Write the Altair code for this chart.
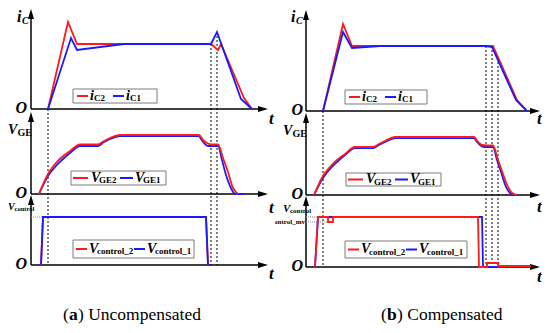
import altair as alt
import pandas as pd

# ---------------- data ----------------
# t : time measured from the origin of each column (arbitrary units)
# v : amplitude above the zero line of its panel (arbitrary units)

# (a) Uncompensated
A_IC2_T = [17, 37, 46, 180, 187, 190, 213, 221]
A_IC2_V = [0, 87, 65, 65, 59, 65, 11, 0]
A_IC1_T = [17, 40, 46, 93, 180, 186, 210, 221]
A_IC1_V = [0, 71, 59, 65, 65, 77, 10, 0]
A_VGE2_T = [8, 17, 24, 31, 39, 49, 67, 73, 79, 89, 168, 172, 176, 181, 187, 192, 197, 202, 205, 207]
A_VGE2_V = [0, 20, 30, 37, 43, 49.5, 49.5, 53, 56, 59, 59, 54, 51, 49.5, 49.5, 36, 22, 6, 2, 0]
A_VGE1_T = [8, 17, 24, 31, 39, 49, 67, 73, 79, 89, 168, 170, 173, 177, 187, 191, 195, 199, 202, 205, 213]
A_VGE1_V = [0, 18, 27, 34, 41, 48, 48, 52, 55, 58, 58, 55, 51, 48, 48, 34, 19, 8, 2, 0, 0]
A_CTL2_T = [10, 12, 175, 177]
A_CTL2_V = [0, 48, 48, 0]
A_CTL1_T = [10, 12, 175, 177]
A_CTL1_V = [0, 48, 48, 0]
A_DASH_T = [17, 180, 186]
A_DASH_FROM = [0, 65, 77]          # ic value where each dashed marker starts
A_LEVEL_V = [48]                   # V_control level marker
A_LEVEL_LEN = [11]

# (b) Compensated
B_IC2_T = [17, 37, 46, 187, 211, 221]
B_IC2_V = [0, 87, 65, 65, 11, 0]
B_IC1_T = [17, 37, 46, 74, 180, 186, 210, 221]
B_IC1_V = [0, 79, 63, 65, 65, 64, 11, 0]
B_VGE2_T = [8, 17, 24, 31, 39, 49, 67, 73, 79, 89, 168, 172, 176, 181, 187, 192, 197, 202, 206, 211]
B_VGE2_V = [0, 19, 28, 35, 41, 48, 48, 51, 54, 58, 58, 53, 50, 49.5, 49.5, 35, 21, 8, 2, 0]
B_VGE1_T = [8, 17, 24, 31, 39, 49, 67, 73, 79, 89, 168, 171, 174, 178, 187, 191, 196, 200, 204, 208, 212]
B_VGE1_V = [0, 17, 26, 33, 40, 47, 47, 50, 53, 57, 57, 53, 50, 48, 48, 35, 20, 8, 2, 0, 0]
B_CTL2_T = [9, 12, 22, 22, 27, 27, 172, 173, 181, 181, 192, 192, 225]
B_CTL2_V = [0, 50, 50, 45, 45, 50, 50, 0, 0, 4, 4, 1, 1]
B_CTL1_T = [9, 12, 176, 177, 192]
B_CTL1_V = [0, 50, 50, 0, 0]
B_DASH_T = [17, 180, 186, 192]
B_DASH_FROM = [0, 65, 65, 53]
B_LEVEL_V = [50, 45]
B_LEVEL_LEN = [12, 22]

CAPTIONS = {"a": ("a", "Uncompensated"), "b": ("b", "Compensated")}

# ---------------- style / layout ----------------
RED = "#ff1a1a"
BLUE = "#1a1aff"
SERIF = "Liberation Serif"
W, H = 267, 317
UP = "M-0.6,1L0,-1L0.6,1Z"
RIGHT = "M-1,-0.6L1,0L-1,0.6Z"

LAYOUT = {
    "a": dict(dom=[-23, 244], zero=dict(ic=217, vge=132, ctl=61),
              xtip=237, ytip=dict(ic=100, vge=82, ctl=70),
              o_t=-4, t_t=238, t_y=dict(ic=207, vge=118, ctl=52),
              leg=dict(ic=(42, 126, 230, 7), vge=(40, 135, 148, 7), ctl=(42, 163, 77, 9)),
              cap_t=32),
    "b": dict(dom=[-31, 236], zero=dict(ic=215, vge=131, ctl=59),
              xtip=234, ytip=dict(ic=101, vge=82, ctl=71),
              o_t=-3, t_t=231, t_y=dict(ic=207, vge=119, ctl=49),
              leg=dict(ic=(39, 121, 229, 7), vge=(40, 135, 146.5, 6.5), ctl=(39, 161, 76.5, 8.5)),
              cap_t=75),
}


def build(col, series, dash_t, dash_from, level_v, level_len, order):
    L = LAYOUT[col]
    X = alt.X("t:Q", scale=alt.Scale(domain=L["dom"], nice=False, zero=False), axis=None)
    Y = alt.Y("y:Q", scale=alt.Scale(domain=[0, H], nice=False, zero=False), axis=None)
    Z = L["zero"]
    layers = []

    def txt(rows, size, weight="bold", style="normal", align="left", clip=False):
        df = pd.DataFrame(rows, columns=["t", "y", "s"])
        return alt.Chart(df).mark_text(font=SERIF, fontSize=size, fontWeight=weight,
                                       fontStyle=style, align=align, baseline="middle",
                                       color="black", clip=clip).encode(x=X, y=Y, text="s:N")

    # axes (lines)
    hz = pd.DataFrame({"t": [0, 0, 0], "t2": [L["xtip"] - 6] * 3,
                       "y": [Z["ic"], Z["vge"], Z["ctl"]]})
    layers.append(alt.Chart(hz).mark_rule(color="black", strokeWidth=1.5)
                  .encode(x=X, x2="t2:Q", y=Y))
    vt = pd.DataFrame({"t": [0, 0, 0], "y": [Z["ic"], Z["vge"], Z["ctl"]],
                       "y2": [Z[k] + L["ytip"][k] - 6 for k in ("ic", "vge", "ctl")]})
    layers.append(alt.Chart(vt).mark_rule(color="black", strokeWidth=1.5)
                  .encode(x=X, y=Y, y2="y2:Q"))
    # arrow heads
    ah = pd.DataFrame({"t": [L["xtip"] - 5] * 3, "y": [Z["ic"], Z["vge"], Z["ctl"]]})
    layers.append(alt.Chart(ah).mark_point(shape=RIGHT, filled=True, size=100, color="black",
                                           opacity=1, strokeWidth=0).encode(x=X, y=Y))
    av = pd.DataFrame({"t": [0] * 3, "y": [Z[k] + L["ytip"][k] - 5 for k in ("ic", "vge", "ctl")]})
    layers.append(alt.Chart(av).mark_point(shape=UP, filled=True, size=100, color="black",
                                           opacity=1, strokeWidth=0).encode(x=X, y=Y))

    # control level markers
    lv = pd.DataFrame({"t": [0] * len(level_v), "t2": level_len,
                       "y": [Z["ctl"] + v for v in level_v]})
    layers.append(alt.Chart(lv).mark_rule(color="#8c8c8c", strokeWidth=1, strokeDash=[1, 1])
                  .encode(x=X, x2="t2:Q", y=Y))

    # dashed time markers
    dd = pd.DataFrame({"t": dash_t, "y": [Z["ic"] + v for v in dash_from],
                       "y2": [Z["ctl"]] * len(dash_t)})
    layers.append(alt.Chart(dd).mark_rule(color="black", strokeWidth=1, strokeDash=[2, 2])
                  .encode(x=X, y=Y, y2="y2:Q"))

    # waveforms
    colors = {"2": RED, "1": BLUE}
    for panel, idx in order:
        ts, vs = series[(panel, idx)]
        df = pd.DataFrame({"t": ts, "y": [Z[panel] + v for v in vs], "i": list(range(len(ts)))})
        interp = "monotone" if panel == "vge" else "linear"
        layers.append(alt.Chart(df).mark_line(color=colors[idx], strokeWidth=1.8,
                                              interpolate=interp)
                      .encode(x=X, y=Y, order="i:Q"))

    # legends
    for panel, (main, subs) in {"ic": ("i", ("C2", "C1")), "vge": ("V", ("GE2", "GE1")),
                                "ctl": ("V", ("control_2", "control_1"))}.items():
        b0, b1, yc, hh = L["leg"][panel]
        box = pd.DataFrame({"t": [b0], "t2": [b1], "y": [yc - hh], "y2": [yc + hh]})
        layers.append(alt.Chart(box).mark_rect(fill="white", stroke="#7a7a7a", strokeWidth=1)
                      .encode(x=X, x2="t2:Q", y=Y, y2="y2:Q"))
        if panel == "ic":
            segs = [(b0 + 4, b0 + 15, b0 + 17, b0 + 21), (b0 + 40, b0 + 51, b0 + 53, b0 + 57)]
        elif panel == "vge":
            segs = [(b0 + 2, b0 + 17, b0 + 20, b0 + 28), (b0 + 49, b0 + 62, b0 + 64, b0 + 72)]
        else:
            segs = [(b0 + 3, b0 + 14, b0 + 16, b0 + 24), (b0 + 61, b0 + 72, b0 + 74, b0 + 82)]
        for (l0, l1, tm, ts_), col_c, sub in zip(segs, (RED, BLUE), subs):
            ln = pd.DataFrame({"t": [l0], "t2": [l1], "y": [yc]})
            layers.append(alt.Chart(ln).mark_rule(color=col_c, strokeWidth=2)
                          .encode(x=X, x2="t2:Q", y=Y))
            layers.append(txt([(tm, yc + 0.5, main)], 14, style="italic"))
            layers.append(txt([(ts_, yc - 2, sub)], 9))

    # panel labels
    if col == "a":
        layers.append(txt([(-14, 309, "i")], 16, style="italic"))
        layers.append(txt([(-23, 196, "V")], 14, style="italic"))
        layers.append(txt([(-23, 119, "V")], 10, style="italic"))
        layers.append(txt([(-9, 305, "C")], 10, style="italic"))
        layers.append(txt([(-13.5, 193, "GE")], 10))
        layers.append(txt([(-16.5, 117, "control")], 6.5))
    else:
        layers.append(txt([(-15, 309, "i")], 16, style="italic"))
        layers.append(txt([(-23, 195, "V")], 14, style="italic"))
        layers.append(txt([(-23, 117, "V")], 11, style="italic"))
        layers.append(txt([(-10, 305, "C")], 10, style="italic"))
        layers.append(txt([(-13.5, 192, "GE")], 10))
        layers.append(txt([(-16, 115, "control")], 7))
        layers.append(txt([(-1, 104, "control_mv")], 7, align="right", clip=True))

    layers.append(txt([(L["o_t"], Z[k] + 1, "O") for k in ("ic", "vge", "ctl")], 16,
                      style="italic", align="right"))
    layers.append(txt([(L["t_t"], L["t_y"][k], "t") for k in ("ic", "vge", "ctl")], 17,
                      style="italic"))

    # caption
    letter, word = CAPTIONS[col]
    c0 = L["cap_t"]
    lw = 9 if letter == "a" else 10
    layers.append(txt([(c0, 11, "("), (c0 + 6 + lw, 11, ") " + word)], 17.5, weight="normal"))
    layers.append(txt([(c0 + 6, 11, letter)], 17.5))

    return alt.layer(*layers).properties(width=W, height=H)


series_a = {("ic", "2"): (A_IC2_T, A_IC2_V), ("ic", "1"): (A_IC1_T, A_IC1_V),
            ("vge", "2"): (A_VGE2_T, A_VGE2_V), ("vge", "1"): (A_VGE1_T, A_VGE1_V),
            ("ctl", "2"): (A_CTL2_T, A_CTL2_V), ("ctl", "1"): (A_CTL1_T, A_CTL1_V)}
series_b = {("ic", "2"): (B_IC2_T, B_IC2_V), ("ic", "1"): (B_IC1_T, B_IC1_V),
            ("vge", "2"): (B_VGE2_T, B_VGE2_V), ("vge", "1"): (B_VGE1_T, B_VGE1_V),
            ("ctl", "2"): (B_CTL2_T, B_CTL2_V), ("ctl", "1"): (B_CTL1_T, B_CTL1_V)}

col_a = build("a", series_a, A_DASH_T, A_DASH_FROM, A_LEVEL_V, A_LEVEL_LEN,
              [("ic", "2"), ("ic", "1"), ("vge", "1"), ("vge", "2"), ("ctl", "2"), ("ctl", "1")])
col_b = build("b", series_b, B_DASH_T, B_DASH_FROM, B_LEVEL_V, B_LEVEL_LEN,
              [("ic", "2"), ("ic", "1"), ("vge", "1"), ("vge", "2"), ("ctl", "1"), ("ctl", "2")])

chart = alt.hconcat(col_a, col_b, spacing=0, bounds="flush").properties(
    padding=0
).configure_view(stroke=None)

chart.save("out.html", embed_options={"renderer": "svg", "actions": False})
